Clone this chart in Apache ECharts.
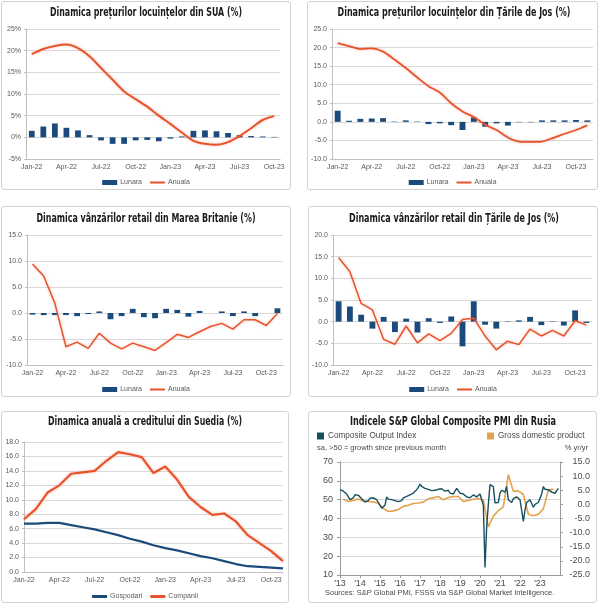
<!DOCTYPE html>
<html><head><meta charset="utf-8">
<script src="https://cdn.jsdelivr.net/npm/echarts@6/dist/echarts.min.js"></script>
<style>
body{margin:0;width:600px;height:604px;background:#fff;position:relative;overflow:hidden}
.p{position:absolute;border:1px solid #d2d2d2;border-radius:3px;box-sizing:border-box;overflow:hidden}
.c{position:absolute;left:0;top:0;right:0;bottom:0}
</style></head><body>
<div class="p" style="left:1px;top:1px;width:290px;height:189px"><div id="a" class="c"></div></div>
<div class="p" style="left:307px;top:1px;width:291px;height:189px"><div id="b" class="c"></div></div>
<div class="p" style="left:1px;top:206px;width:290px;height:191px"><div id="c" class="c"></div></div>
<div class="p" style="left:308px;top:206px;width:290px;height:191px"><div id="d" class="c"></div></div>
<div class="p" style="left:1px;top:411px;width:288px;height:192px"><div id="e" class="c"></div></div>
<div class="p" style="left:308px;top:411px;width:289px;height:192px"><div id="f" class="c"></div></div>
<script>
// ---------- data ----------
const months22 = ['Jan-22','Feb-22','Mar-22','Apr-22','May-22','Jun-22','Jul-22','Aug-22','Sep-22','Oct-22','Nov-22','Dec-22',
  'Jan-23','Feb-23','Mar-23','Apr-23','May-23','Jun-23','Jul-23','Aug-23','Sep-23','Oct-23'];
const months23 = months22.concat(['Nov-23']);

// US house prices
const usLunara = [1.5, 2.5, 3.2, 2.2, 1.6, 0.5, -0.7, -1.5, -1.5, -0.7, -0.6, -0.9, -0.3, 0.2, 1.5, 1.6, 1.4, 1.0, 0.5, 0.3, 0.2, 0.1];
const usAnuala = [19.2, 20.4, 21.1, 21.4, 20.6, 18.7, 16.0, 13.3, 10.6, 8.8, 7.1, 5.0, 3.1, 1.1, -0.8, -1.5, -1.7, -1.1, 0.3, 2.1, 4.0, 4.9];

// Netherlands house prices
const nlHouseLunara = [3.0, 0.3, 0.8, 0.9, 1.0, 0.1, 0.4, 0.1, -0.6, -0.4, -0.9, -2.2, 1.2, -1.3, -0.4, -1.0, -0.1, -0.1, 0.4, 0.4, 0.4, 0.5, 0.4];
const nlHouseAnuala = [21.2, 20.4, 19.6, 19.8, 18.9, 16.8, 14.5, 12.0, 9.6, 7.9, 5.0, 2.8, 1.3, -0.8, -2.2, -4.2, -5.3, -5.4, -5.3, -4.3, -3.2, -2.2, -0.9];

// UK retail sales
const ukLunara = [-0.3, -0.4, -0.4, -0.4, -0.6, -0.2, 0.3, -1.2, -0.6, 0.8, -0.8, -1.0, 0.8, 0.6, -0.7, 0.4, 0.0, 0.3, -0.6, 0.3, -0.6, 0.0, 0.9];
const ukAnuala = [9.4, 7.1, 1.9, -6.5, -5.6, -6.8, -3.9, -5.8, -6.9, -5.8, -6.5, -7.2, -5.7, -4.1, -4.7, -3.6, -2.6, -2.0, -3.1, -1.3, -1.3, -2.4, -0.1];

// Netherlands retail sales
const nlRetailLunara = [4.7, 3.5, 1.6, -1.6, 1.1, -2.4, 0.7, -2.5, 0.8, -0.3, 1.2, -5.7, 4.7, -0.7, -1.6, 0.1, 0.3, 1.1, -0.8, 0.1, -0.9, 2.6, -0.3];
const nlRetailAnuala = [14.8, 11.5, 4.2, 2.7, -4.1, -5.2, -1.0, -4.9, -2.8, -4.4, -2.7, 0.5, 0.8, -3.3, -6.5, -4.5, -5.3, -1.7, -3.3, -2.0, -3.3, 0.2, -0.8];

// Sweden credit
const seGospodari = [6.7, 6.7, 6.8, 6.8, 6.5, 6.2, 5.9, 5.5, 5.1, 4.6, 4.2, 3.7, 3.3, 3.0, 2.6, 2.2, 1.9, 1.5, 1.1, 0.8, 0.7, 0.6, 0.5];
const seCompanii = [7.3, 8.7, 11.0, 12.0, 13.6, 13.8, 14.0, 15.4, 16.6, 16.3, 15.9, 13.7, 14.6, 12.8, 10.4, 9.0, 7.9, 8.1, 7.0, 5.1, 4.0, 2.9, 1.5];

// Russia PMI (monthly, Jan 2013 - Dec 2023) and GDP (quarterly, Q1 2013 - Q3 2023)
const pmiStartYear = 2013;
const pmiComposite = [
  55.3, 55.0, 54.5, 53.8, 53.0, 51.5, 50.0, 49.4, 51.0, 52.6, 53.1, 52.3,
  51.7, 50.5, 49.5, 48.7, 48.5, 49.5, 50.8, 51.2, 51.0, 50.6, 50.0, 48.5,
  47.0, 45.5, 45.0, 47.0, 51.4, 50.3, 51.0, 50.0, 50.8, 49.5, 50.2, 49.0,
  48.5, 49.5, 51.0, 51.5, 51.7, 52.0, 52.6, 53.0, 53.5, 54.5, 55.3, 56.5,
  58.3, 57.0, 56.2, 56.0, 56.5, 55.5, 55.3, 54.8, 54.2, 55.0, 56.0, 55.5,
  56.5, 55.8, 55.3, 54.5, 54.0, 55.0, 53.5, 52.5, 53.0, 54.5, 56.0, 55.0,
  53.5, 54.0, 53.0, 52.0, 51.5, 50.5, 51.0, 52.0, 52.5, 52.0, 51.5, 52.0,
  53.0, 52.0, 47.0, 14.0, 35.5, 47.5, 58.0, 57.3, 56.9, 48.3, 47.5, 48.5,
  53.5, 55.0, 54.5, 54.0, 57.0, 50.0, 49.0, 48.5, 50.5, 50.0, 51.5, 52.0,
  50.0, 49.5, 38.5, 44.5, 48.5, 49.0, 50.0, 49.5, 46.0, 47.5, 48.5, 48.5,
  48.3, 53.0, 57.0, 55.5, 55.0, 55.3, 54.5, 54.0, 54.3, 53.4, 52.5, 56.0
];
const gdpYoY = [
  1.8, 1.0, 1.4, 1.9,
  1.2, 1.0, 0.9, 0.4,
  -1.5, -2.5, -2.3, -1.8,
  -0.7, -0.3, 0.3, 0.5,
  0.8, 2.0, 2.3, 2.8,
  1.6, 2.4, 2.8, 2.8,
  1.0, 1.4, 1.8, 2.1,
  1.5, -8.0, -4.2, -2.2,
  -0.9, 10.5, 4.6, 4.8,
  3.5, -3.5, -4.0, -3.5,
  -1.6, 5.0, 5.4
];
const yearTicks = [2013, 2014, 2015, 2016, 2017, 2018, 2019, 2020, 2021, 2022, 2023];

// ---------- styling helpers ----------
const FONT = "'Liberation Sans', Arial, sans-serif";
const TFONT = "'Liberation Sans Narrow','DejaVu Sans Condensed','Liberation Sans',sans-serif";
const AX = '#595959', GRID = '#d9d9d9', AXLINE = '#bfbfbf';
const BLUE = '#1B4B7C', RED = '#E8532B';

const mctx = document.createElement('canvas').getContext('2d');
function titleG(text, cx, cy, w) {
  const font = 'bold 12px ' + TFONT;
  mctx.font = font;
  const s = w / mctx.measureText(text).width;
  return { type: 'text', x: cx, y: cy, scaleX: s, z: 10,
    style: { text: text, font: font, fill: '#1a1a1a', align: 'center', verticalAlign: 'middle',
      textAlign: 'center', textVerticalAlign: 'middle' } };
}
const linePath = 'path://M0,0H15V2H0Z';
const thickPath = 'path://M0,0H15V3H0Z';

function catPanel(id, cfg) {
  const chart = echarts.init(document.getElementById(id));
  const yFmt = cfg.yFmt;
  chart.setOption({
    animation: false,
    graphic: [titleG(cfg.title, cfg.tx, cfg.ty, cfg.tw)],
    grid: Object.assign({ containLabel: false, outerBoundsMode: 'none' }, cfg.grid),
    legend: {
      left: 'center', top: cfg.legendTop, padding: 0, itemWidth: 15, itemHeight: cfg.legendH || 5, itemGap: 8,
      textStyle: { fontSize: 7, color: AX, fontFamily: FONT, padding: [0, 0, 0, -2] },
      data: cfg.legend
    },
    xAxis: {
      type: 'category', data: cfg.cats, boundaryGap: cfg.boundaryGap !== false,
      axisLine: { onZero: false, lineStyle: { color: AXLINE } },
      axisTick: { show: false },
      axisLabel: { interval: 2, color: AX, fontSize: 7, fontFamily: FONT, margin: 5 }
    },
    yAxis: {
      type: 'value', min: cfg.min, max: cfg.max, interval: cfg.interval,
      axisLine: { show: true, lineStyle: { color: AXLINE } },
      axisTick: { show: true, length: 2, lineStyle: { color: AXLINE } },
      splitLine: { show: true, lineStyle: { color: GRID, width: 1 } },
      axisLabel: { color: AX, fontSize: 7, fontFamily: FONT, margin: 5, formatter: yFmt }
    },
    series: cfg.series
  });
}
const fmt1 = v => v.toFixed(1);
function barS(name, data, w) {
  return { name: name, type: 'bar', data: data, barWidth: w || '52%', itemStyle: { color: BLUE }, z: 2 };
}
function lineS(name, data, color, width, smooth) {
  return { name: name, type: 'line', data: data, showSymbol: false, symbol: 'none', smooth: smooth || false, z: 3,
    lineStyle: { color: color, width: width, shadowColor: 'rgba(232,83,43,0.35)', shadowBlur: 3 },
    itemStyle: { color: color } };
}
const lunAnLegend = [{ name: 'Lunara', icon: 'rect' }, { name: 'Anuala', icon: linePath }];

catPanel('a', {
  title: 'Dinamica prețurilor locuințelor din SUA (%)', tx: 144, ty: 11, tw: 192,
  grid: { left: 24, right: 10, top: 27, bottom: 30 }, legendTop: 177,
  cats: months22, min: -5, max: 25, interval: 5, yFmt: v => v + '%',
  legend: lunAnLegend,
  series: [barS('Lunara', usLunara, '50%'), lineS('Anuala', usAnuala, RED, 2, 0.3)]
});
catPanel('b', {
  title: 'Dinamica prețurilor locuințelor din Țările de Jos (%)', tx: 146, ty: 11, tw: 233,
  grid: { left: 24, right: 4, top: 27, bottom: 30 }, legendTop: 177,
  cats: months23, min: -10, max: 25, interval: 5, yFmt: fmt1,
  legend: lunAnLegend,
  series: [barS('Lunara', nlHouseLunara), lineS('Anuala', nlHouseAnuala, RED, 1.8, 0.3)]
});
catPanel('c', {
  title: 'Dinamica vânzărilor retail din Marea Britanie (%)', tx: 144, ty: 12, tw: 219,
  grid: { left: 25, right: 7, top: 28, bottom: 31 }, legendTop: 179,
  cats: months23, min: -10, max: 15, interval: 5, yFmt: fmt1,
  legend: lunAnLegend,
  series: [barS('Lunara', ukLunara), lineS('Anuala', ukAnuala, RED, 1.5)]
});
catPanel('d', {
  title: 'Dinamica vânzărilor retail din Țările de Jos (%)', tx: 145, ty: 12, tw: 210,
  grid: { left: 24, right: 5, top: 28, bottom: 31 }, legendTop: 179,
  cats: months23, min: -10, max: 20, interval: 5, yFmt: fmt1,
  legend: lunAnLegend,
  series: [barS('Lunara', nlRetailLunara), lineS('Anuala', nlRetailAnuala, RED, 1.5)]
});
catPanel('e', {
  title: 'Dinamica anuală a creditului din Suedia (%)', tx: 143, ty: 10, tw: 194,
  grid: { left: 22, right: 5, top: 30, bottom: 30 }, legendTop: 181, legendH: 3,
  cats: months23, boundaryGap: false, min: 0, max: 18, interval: 2, yFmt: fmt1,
  legend: [{ name: 'Gospodari', icon: thickPath }, { name: 'Companii', icon: thickPath }],
  series: [
    { name: 'Gospodari', type: 'line', data: seGospodari, showSymbol: false, symbol: 'none',
      lineStyle: { color: BLUE, width: 2.2 }, itemStyle: { color: BLUE } },
    lineS('Companii', seCompanii, RED, 2.2)
  ]
});

// ---------- PMI panel ----------
(function () {
  const chart = echarts.init(document.getElementById('f'));
  const TEAL = '#17505E', GOLD = '#E5A14B', PAX = '#4a4a4a';
  const pmiData = pmiComposite.map((v, i) => [pmiStartYear + i / 12, v]);
  const gdpData = gdpYoY.map((v, i) => [pmiStartYear + (i * 3 + 2) / 12, v]);
  const lblStyle = { color: PAX, fontSize: 9, fontFamily: FONT };
  const legText = { fontSize: 8.2, color: PAX, fontFamily: FONT, padding: [0, 0, 0, -1] };
  chart.setOption({
    animation: false,
    graphic: [
      titleG('Indicele S&P Global Composite PMI din Rusia', 144, 10, 206),
      { type: 'text', x: 8, y: 36, style: { text: 'sa, >50 = growth since previous month', font: '7.5px ' + FONT, fill: PAX, verticalAlign: 'middle', textVerticalAlign: 'middle' } },
      { type: 'text', x: 279, y: 36, style: { text: '% yr/yr', font: '7.5px ' + FONT, fill: PAX, align: 'right', textAlign: 'right', verticalAlign: 'middle', textVerticalAlign: 'middle' } },
      { type: 'text', x: 16, y: 181, style: { text: 'Sources: S&P Global PMI, FSSS via S&P Global Market Intelligence.', font: '7.5px ' + FONT, fill: PAX, verticalAlign: 'middle', textVerticalAlign: 'middle' } }
    ],
    legend: [
      { left: 8, top: 20, padding: 0, itemWidth: 7, itemHeight: 7, textStyle: legText,
        data: [{ name: 'Composite Output Index', icon: 'rect' }] },
      { left: 178, top: 20, padding: 0, itemWidth: 7, itemHeight: 7, textStyle: legText,
        data: [{ name: 'Gross domestic product', icon: 'rect' }] }
    ],
    grid: { left: 31, right: 36, top: 50, bottom: 27, containLabel: false, outerBoundsMode: 'none' },
    xAxis: {
      type: 'value', min: yearTicks[0], max: yearTicks[yearTicks.length - 1] + 1, interval: 1,
      axisLine: { onZero: false, lineStyle: { color: '#9a9a9a' } },
      axisTick: { show: true, length: 3, lineStyle: { color: '#9a9a9a' } },
      splitLine: { show: false },
      axisLabel: Object.assign({ margin: 4, showMaxLabel: false,
        formatter: v => yearTicks.indexOf(v) >= 0 ? "'" + String(v).slice(2) : '' }, lblStyle)
    },
    yAxis: [
      { type: 'value', position: 'left', min: 10, max: 70, interval: 10,
        axisLine: { show: true, lineStyle: { color: '#9a9a9a' } },
        axisTick: { show: true, length: 3, lineStyle: { color: '#9a9a9a' } },
        splitLine: { show: true, lineStyle: { color: GRID } },
        axisLabel: Object.assign({ margin: 7 }, lblStyle) },
      { type: 'value', position: 'right', min: -25, max: 15, interval: 5,
        axisLine: { show: true, lineStyle: { color: '#9a9a9a' } },
        axisTick: { show: true, length: 3, lineStyle: { color: '#9a9a9a' } },
        splitLine: { show: false },
        axisLabel: Object.assign({ margin: 30, align: 'right', formatter: fmt1 }, lblStyle) }
    ],
    series: [
      { name: 'Gross domestic product', type: 'line', yAxisIndex: 1, data: gdpData, showSymbol: false, symbol: 'none',
        lineStyle: { color: GOLD, width: 1.6 }, itemStyle: { color: GOLD }, z: 2 },
      { name: 'Composite Output Index', type: 'line', yAxisIndex: 0, data: pmiData, showSymbol: false, symbol: 'none',
        lineStyle: { color: TEAL, width: 1.4 }, itemStyle: { color: TEAL }, z: 3 }
    ]
  });
})();
</script>
</body></html>
